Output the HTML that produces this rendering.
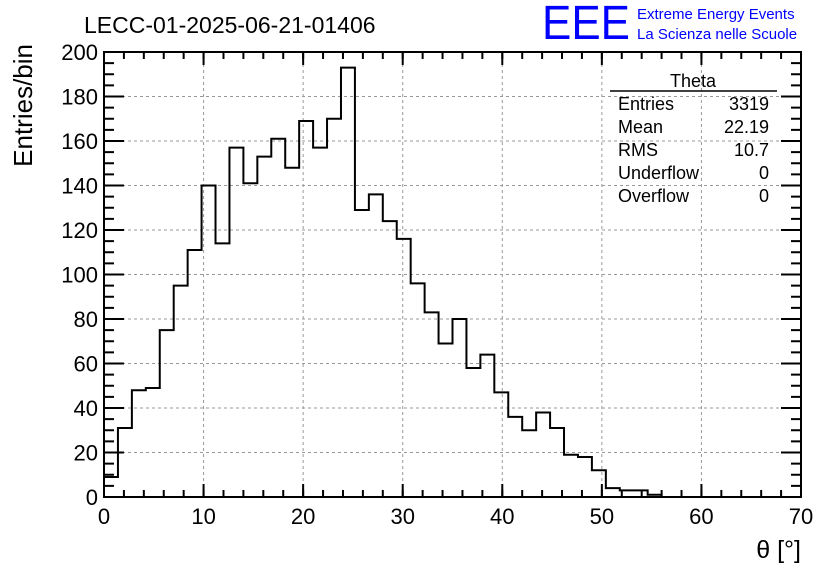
<!DOCTYPE html>
<html><head><meta charset="utf-8"><style>
body{margin:0;background:#fff;}
svg{display:block;font-family:"Liberation Sans",sans-serif;}
</style></head><body>
<svg id="c" width="836" height="572">
<text x="84" y="33" font-size="23">LECC-01-2025-06-21-01406</text>
<text x="542" y="39" font-size="48" fill="#0000ff" textLength="88" lengthAdjust="spacingAndGlyphs">EEE</text>
<text x="637" y="19" font-size="15" fill="#0000ff">Extreme Energy Events</text>
<text x="637" y="39" font-size="15" fill="#0000ff">La Scienza nelle Scuole</text>
<g id="grid"></g><g id="ticks"></g>
<path id="hist" fill="none" stroke="#000" stroke-width="2"/>
<rect x="104" y="52" width="697" height="445" fill="none" stroke="#000" stroke-width="2"/>
<text x="0" y="0" font-size="26" text-anchor="end" transform="translate(32,44) rotate(-90)">Entries/bin</text>
<text x="801" y="558" font-size="25" text-anchor="end">θ [°]</text>
<g font-size="18">
<line x1="610" y1="91" x2="777" y2="91" stroke="#000" stroke-width="1.5"/>
<text x="693" y="87" text-anchor="middle">Theta</text>
<text x="618" y="110">Entries</text><text x="769" y="110" text-anchor="end">3319</text>
<text x="618" y="133">Mean</text><text x="769" y="133" text-anchor="end">22.19</text>
<text x="618" y="156">RMS</text><text x="769" y="156" text-anchor="end">10.7</text>
<text x="618" y="179">Underflow</text><text x="769" y="179" text-anchor="end">0</text>
<text x="618" y="202">Overflow</text><text x="769" y="202" text-anchor="end">0</text>
</g>
</svg>
<script>
const binWidth = 1.4;
const counts = [9,31,48,49,75,95,111,140,114,157,141,153,161,148,169,157,170,193,129,136,124,116,96,83,69,80,58,64,47,36,30,38,31,19,18,12,4,3,3,1,0,0,0,0,0,0,0,0,0,0];
const xTicks = [0,10,20,30,40,50,60,70];
const yTicks = [0,20,40,60,80,100,120,140,160,180,200];
const X0=104,X1=801,Y0=497,Y1=52;
const sx=v=>X0+(v/70)*(X1-X0), sy=v=>Y0-(v/200)*(Y0-Y1);
const NS="http://www.w3.org/2000/svg";
const grid=document.getElementById('grid'), tk=document.getElementById('ticks');
function mk(p,tag,a){const e=document.createElementNS(NS,tag);for(const k in a)e.setAttribute(k,a[k]);p.appendChild(e);return e;}
xTicks.forEach(v=>{
 if(v>0&&v<70){const g=mk(grid,'line',{x1:sx(v),x2:sx(v),y1:Y1,y2:Y0,stroke:'#999','stroke-dasharray':'3,3'});
 
 }
 const t=mk(tk,'text',{x:sx(v),y:524,'font-size':22,'text-anchor':'middle'});t.textContent=v;
 
 
 mk(tk,'line',{x1:sx(v),x2:sx(v),y1:Y0,y2:Y0-13,stroke:'#000','stroke-width':2});
 mk(tk,'line',{x1:sx(v),x2:sx(v),y1:Y1,y2:Y1+13,stroke:'#000','stroke-width':2});
});
for(let v=0;v<=70;v+=2){mk(tk,'line',{x1:sx(v),x2:sx(v),y1:Y0,y2:Y0-7,stroke:'#000','stroke-width':2});mk(tk,'line',{x1:sx(v),x2:sx(v),y1:Y1,y2:Y1+7,stroke:'#000','stroke-width':2});}
yTicks.forEach(v=>{
 if(v>0&&v<200){const g=mk(grid,'line',{x1:X0,x2:X1,y1:sy(v),y2:sy(v),stroke:'#999','stroke-dasharray':'3,3'});
 
 }
 const t=mk(tk,'text',{x:98,y:sy(v)+8,'font-size':22,'text-anchor':'end'});t.textContent=v;
 
 
 mk(tk,'line',{x1:X0,x2:X0+20,y1:sy(v),y2:sy(v),stroke:'#000','stroke-width':2});
 mk(tk,'line',{x1:X1,x2:X1-20,y1:sy(v),y2:sy(v),stroke:'#000','stroke-width':2});
});
for(let v=0;v<=200;v+=5){mk(tk,'line',{x1:X0,x2:X0+10,y1:sy(v),y2:sy(v),stroke:'#000','stroke-width':2});mk(tk,'line',{x1:X1,x2:X1-10,y1:sy(v),y2:sy(v),stroke:'#000','stroke-width':2});}
let d='M'+sx(0)+','+sy(0);
counts.forEach((c,i)=>{d+=' L'+sx(i*binWidth)+','+sy(c)+' L'+sx((i+1)*binWidth)+','+sy(c);});
document.getElementById('hist').setAttribute('d',d);
</script>
</body></html>
